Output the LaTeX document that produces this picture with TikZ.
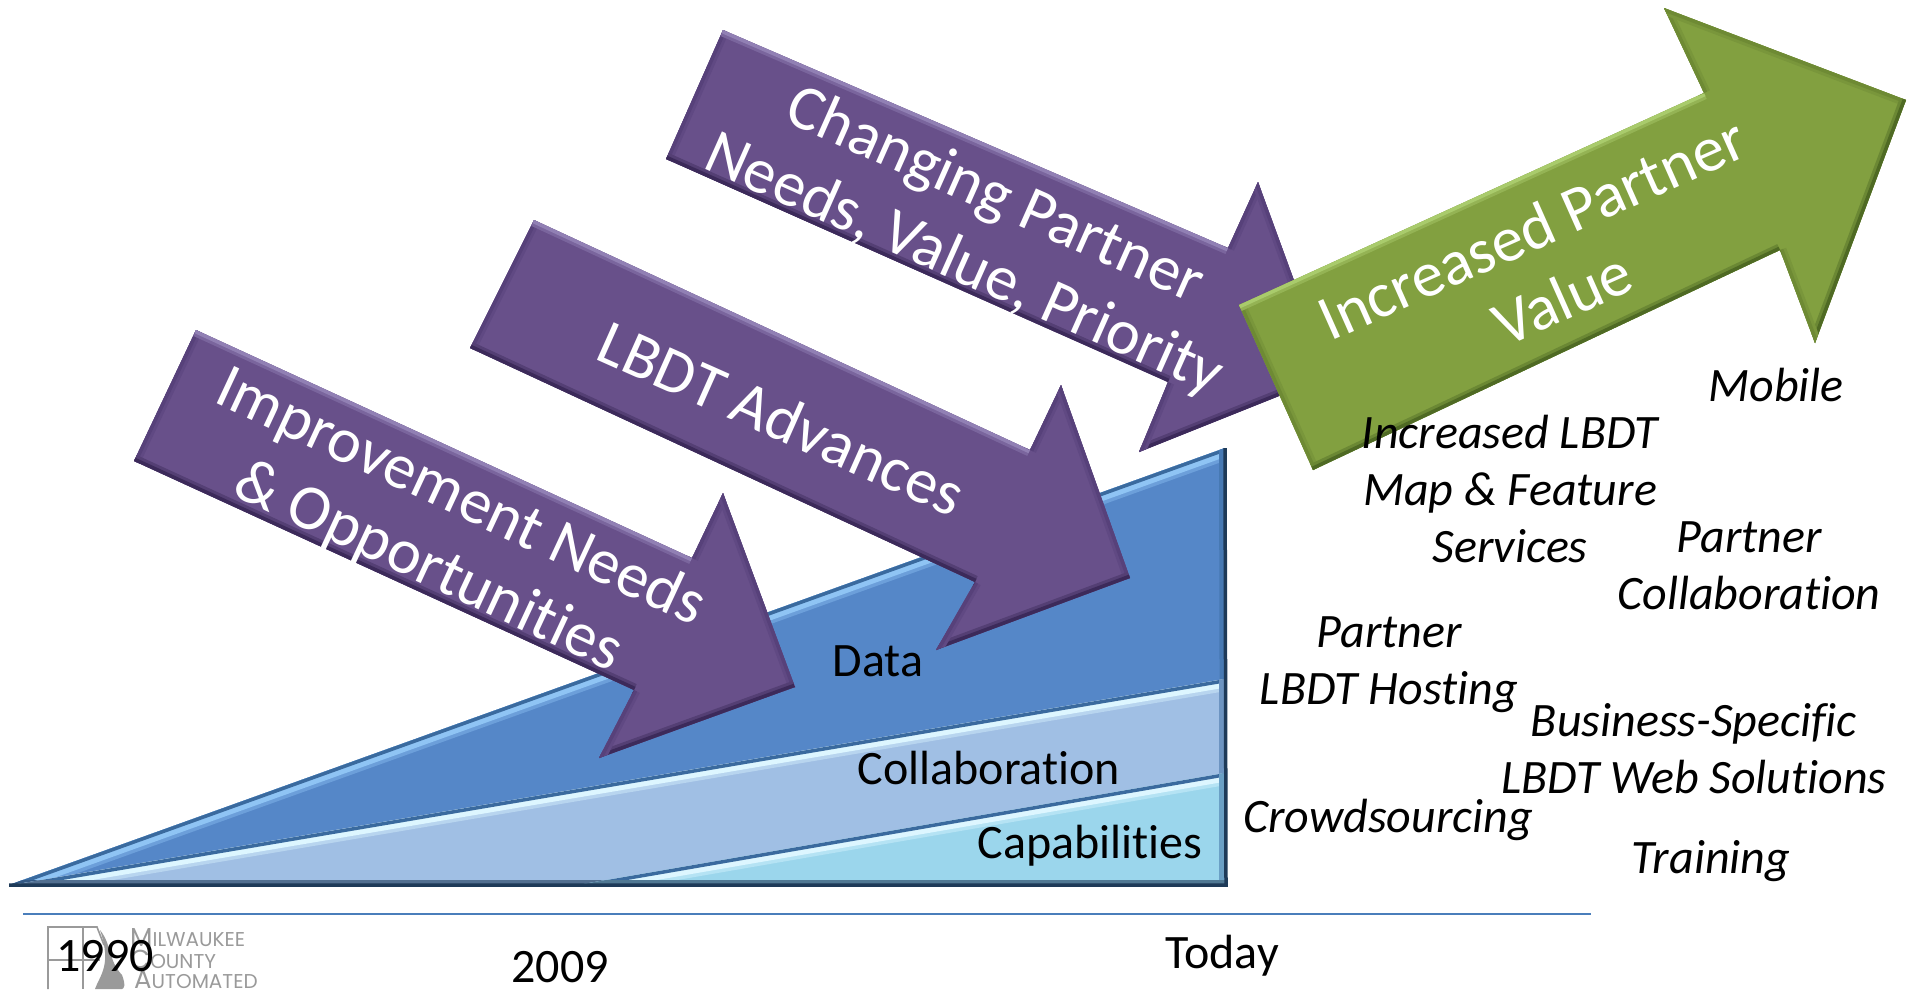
\documentclass[tikz,border=0pt]{standalone}
\usepackage{fontspec}
\setmainfont[Ligatures=CommonOff]{Carlito}
\newfontfamily\logofont{Poppins}
\definecolor{pfill}{HTML}{68508A}
\definecolor{plight}{HTML}{9180B4}
\definecolor{pmid}{HTML}{57417A}
\definecolor{pdark}{HTML}{3C2A5A}
\definecolor{gfill}{HTML}{82A040}
\definecolor{glight}{HTML}{A9CB6C}
\definecolor{gmid}{HTML}{6E8A34}
\definecolor{gdark}{HTML}{4F6A24}
\definecolor{bdata}{HTML}{5587C8}
\definecolor{bcoll}{HTML}{A0BFE4}
\definecolor{bcap}{HTML}{9BD6EC}
\definecolor{bedge}{HTML}{3A6A9E}
\definecolor{bhi}{HTML}{8FC4F4}
\definecolor{bhi2}{HTML}{DDF6FF}
\definecolor{bnavy}{HTML}{1E3A58}
\definecolor{rulec}{HTML}{4A7EBB}
\definecolor{logoc}{HTML}{9A9A9A}
\tikzset{
  x=1pt,y=-1pt,
  whitetext/.style={text=white,align=center,inner sep=0pt,font=\fontsize{64}{76}\selectfont},
  itemtext/.style={text=black,align=center,inner sep=0pt,font=\fontsize{48}{57}\selectfont\itshape},
  labeltext/.style={text=black,inner sep=0pt,font=\fontsize{48}{56}\selectfont},
  logotext/.style={text=logoc,anchor=west,inner sep=0pt,font=\logofont\fontsize{20}{22}\selectfont},
  rulel/.style={draw=rulec,line width=1.6pt},
}
% arrow with seven named corners: tt jt ht tip hb jb tb
\newcommand\bevelarrow[5]{%
  \fill[#2] (#1tt)--(#1jt)--(#1ht)--(#1tip)--(#1hb)--(#1jb)--(#1tb)--cycle;
  \begin{scope}
    \clip (#1tt)--(#1jt)--(#1ht)--(#1tip)--(#1hb)--(#1jb)--(#1tb)--cycle;
    \foreach \p/\q/\c in {tb/tt/#4,tt/jt/#3,jt/ht/#4,ht/tip/#4,tip/hb/#5,hb/jb/#4,jb/tb/#5}{
      \draw[line width=13pt,\c!45!#2] (#1\p)--(#1\q);
      \draw[line width=7pt,\c] (#1\p)--(#1\q);
    }
  \end{scope}}
% wedge: left, top right, bottom right
\newcommand\bandwedge[6]{%
  \fill[#4] (#1)--(#2)--(#3)--cycle;
  \begin{scope}
    \clip (#1)--(#2)--(#3)--cycle;
    \draw[line width=24pt,#5!40!#4] (#1)--(#2);
    \draw[line width=17pt,#5] (#1)--(#2);
    \draw[line width=7pt,#6] (#1)--(#2);
    \draw[line width=12pt,#6!50!#4] (#2)--(#3);
    \draw[line width=10pt,bnavy!60!#4] (#3)--(#1);
  \end{scope}}
\begin{document}
\begin{tikzpicture}
\useasboundingbox (0,0) rectangle (1916,989);
\fill[white] (0,0) rectangle (1916,989);

% wedges
\coordinate (dl) at (9,885);
\coordinate (dt) at (1225,448);
\coordinate (dr) at (1226,885);
\coordinate (cl) at (12,885);
\coordinate (ct) at (1225,679);
\coordinate (cb) at (1225,885);
\coordinate (al) at (578,885);
\coordinate (at) at (1225,773);
\coordinate (ab) at (1225,885);
\bandwedge{dl}{dt}{dr}{bdata}{bhi}{bedge}
\bandwedge{cl}{ct}{cb}{bcoll}{bhi2}{bedge}
\bandwedge{al}{at}{ab}{bcap}{bhi2}{bedge}
\draw[bnavy,line width=3.5pt] (dt)--(dr)--(dl);

% purple arrows
\coordinate (atp-tt) at (196,330);
\coordinate (atp-jt) at (692,558);
\coordinate (atp-ht) at (723,493);
\coordinate (atp-tip) at (795,687);
\coordinate (atp-hb) at (599,758);
\coordinate (atp-jb) at (634,690);
\coordinate (atp-tb) at (134,461);
\bevelarrow{atp-}{pfill}{plight}{pmid}{pdark}

\coordinate (btp-tt) at (534,220);
\coordinate (btp-jt) at (1030,450);
\coordinate (btp-ht) at (1061,385);
\coordinate (btp-tip) at (1130,578);
\coordinate (btp-hb) at (936,650);
\coordinate (btp-jb) at (975,582);
\coordinate (btp-tb) at (470,348);
\bevelarrow{btp-}{pfill}{plight}{pmid}{pdark}

\coordinate (ctp-tt) at (723,30);
\coordinate (ctp-jt) at (1228,248);
\coordinate (ctp-ht) at (1258,182);
\coordinate (ctp-tip) at (1329,376);
\coordinate (ctp-hb) at (1139,452);
\coordinate (ctp-jb) at (1168,382);
\coordinate (ctp-tb) at (666,159);
\bevelarrow{ctp-}{pfill}{plight}{pmid}{pdark}

% green arrow
\coordinate (gtp-tt) at (1239,305);
\coordinate (gtp-jt) at (1704,93);
\coordinate (gtp-ht) at (1664,8);
\coordinate (gtp-tip) at (1906,100);
\coordinate (gtp-hb) at (1815,343);
\coordinate (gtp-jb) at (1780,250);
\coordinate (gtp-tb) at (1313,470);
\bevelarrow{gtp-}{gfill}{glight}{gmid}{gdark}

% rule
\coordinate (rl) at (23,914);
\coordinate (rr) at (1591,914);
\draw[rulel] (rl)--(rr);

% logo
\draw[logoc,line width=1.6pt] (48,989)--(48,927)--(97,927)--(104,945);
\draw[logoc,line width=1.2pt] (83,927)--(83,989) (48,960)--(100,960);
\fill[logoc] (100,930) .. controls (112,945) and (108,960) .. (122,975) .. controls (126,985) and (124,989) .. (122,989) -- (95,989) .. controls (100,975) and (112,965) .. (100,930) -- cycle;
\node[logotext] (logoa) at (130,938) {{\fontsize{26}{26}\selectfont M}ILWAUKEE};
\node[logotext] (logob) at (130,959) {{\fontsize{26}{26}\selectfont C}OUNTY};
\node[logotext] (logoc) at (134,980) {{\fontsize{26}{26}\selectfont A}UTOMATED};

% white labels
\node[whitetext,rotate=-25] (t1) at (444,533) {Improvement Needs\\\& Opportunities};
\node[whitetext,rotate=-24] (t2) at (782,418) {LBDT Advances};
\node[whitetext,rotate=-24] (t3) at (979,231) {Changing Partner\\Needs, Value, Priority};
\node[whitetext,rotate=24] (t4) at (1547,263) {Increased Partner\\Value};

% wedge labels
\node[labeltext] (ld) at (878,661) {Data};
\node[labeltext] (lc) at (989,768) {Collaboration};
\node[labeltext] (la) at (1090,846) {Capabilities};

% time labels
\node[labeltext] (y1) at (105,956) {1990};
\node[labeltext] (y2) at (560,967) {2009};
\node[labeltext] (y3) at (1222,956) {Today};

% items
\node[itemtext] (i1) at (1776,385) {Mobile};
\node[itemtext] (i2) at (1510,489) {Increased LBDT\\Map \& Feature\\Services};
\node[itemtext] (i3) at (1749,566) {Partner\\Collaboration};
\node[itemtext] (i4) at (1389,665) {Partner\\LBDT Hosting};
\node[itemtext] (i5) at (1694,749) {Business-Specific\\LBDT Web Solutions};
\node[itemtext] (i6) at (1388,820) {Crowdsourcing};
\node[itemtext] (i7) at (1711,861) {Training};
\end{tikzpicture}
\end{document}
